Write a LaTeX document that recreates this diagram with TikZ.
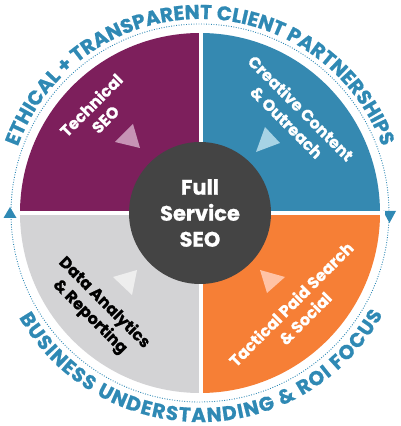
\documentclass[tikz,border=0pt]{standalone}
\usepackage{fontspec}
\setmainfont{Poppins}[BoldFeatures={FakeBold=0.7}]
\usetikzlibrary{decorations.text}
\definecolor{qpurple}{HTML}{7D1F5C}
\definecolor{qblue}{HTML}{3589B1}
\definecolor{qorange}{HTML}{F67F36}
\definecolor{qgray}{HTML}{D3D3D5}
\definecolor{qdark}{HTML}{444444}
\definecolor{tblue}{HTML}{2F89B4}
\definecolor{tpurple}{HTML}{C693B5}
\definecolor{tbluel}{HTML}{A7D3E5}
\definecolor{tgray}{HTML}{EEEEEE}
\definecolor{torange}{HTML}{FFC3A5}
\newcommand{\arcfont}{\bfseries\fontsize{20}{20}\selectfont}
\tikzset{
  qtext/.style={align=center, inner sep=0pt, font=\bfseries\fontsize{16}{20}\selectfont},
  hubnode/.style={circle, fill=qdark, minimum size=142pt, inner sep=0pt, text=white, align=center, font=\bfseries\fontsize{21}{26}\selectfont},
  ring/.style={tblue, line width=0.9pt, dash pattern=on 0.9pt off 1.6pt},
}
\begin{document}
\begin{tikzpicture}[x=1pt,y=1pt]
\useasboundingbox (0,0) rectangle (400,426);
\coordinate (C) at (200,213);
% dotted ring
\draw[ring] (C) circle[radius=189];
\fill[tblue] (3.5,208) -- (16.5,208) -- (10,219) -- cycle;
\fill[tblue] (383,215) -- (396,215) -- (389.5,203) -- cycle;
% quadrants
\fill[qpurple] (C) -- ++(180:180) arc[start angle=180,end angle=90,radius=180] -- cycle;
\fill[qblue] (C) -- ++(90:180) arc[start angle=90,end angle=0,radius=180] -- cycle;
\fill[qorange] (C) -- ++(0:180) arc[start angle=0,end angle=-90,radius=180] -- cycle;
\fill[qgray] (C) -- ++(-90:180) arc[start angle=-90,end angle=-180,radius=180] -- cycle;
\draw[white,line width=4pt] (200.5,28) -- (200.5,398) (15,213) -- (385,213);
% triangles
\fill[tpurple] (133,302) -- (115,284) -- (140,278) -- cycle;
\fill[tbluel] (265,299) -- (280,283) -- (256,274) -- cycle;
\fill[tgray] (113,149) -- (137,156) -- (132,131) -- cycle;
\fill[torange] (260,156) -- (285,149) -- (267,133) -- cycle;
% hub
\node[hubnode] (hub) at (C) {Full\\Service\\SEO};
% quadrant labels
\node[qtext, text=white, rotate=45] (tech) at (98,314) {Technical\\SEO};
\node[qtext, text=white, rotate=-45] (crea) at (294,311) {Creative Content\\\& Outreach};
\node[qtext, text=black, rotate=-45] (data) at (97,116) {Data Analytics\\\& Reporting};
\node[qtext, text=white, rotate=45] (tact) at (298,115) {Tactical Paid Search\\\& Social};
% arc texts
\path[decorate, decoration={text along path, text={|\arcfont|ETHICAL + TRANSPARENT CLIENT PARTNERSHIPS}, text align={fit to path}, text color=tblue}]
  (C) ++(160:194) arc[start angle=160, end angle=20, radius=194];
\path[decorate, decoration={text along path, text={|\arcfont|BUSINESS UNDERSTANDING {\&} ROI FOCUS}, text align={fit to path}, text color=tblue}]
  (C) ++(210:209) arc[start angle=210, end angle=331, radius=209];
\end{tikzpicture}
\end{document}
